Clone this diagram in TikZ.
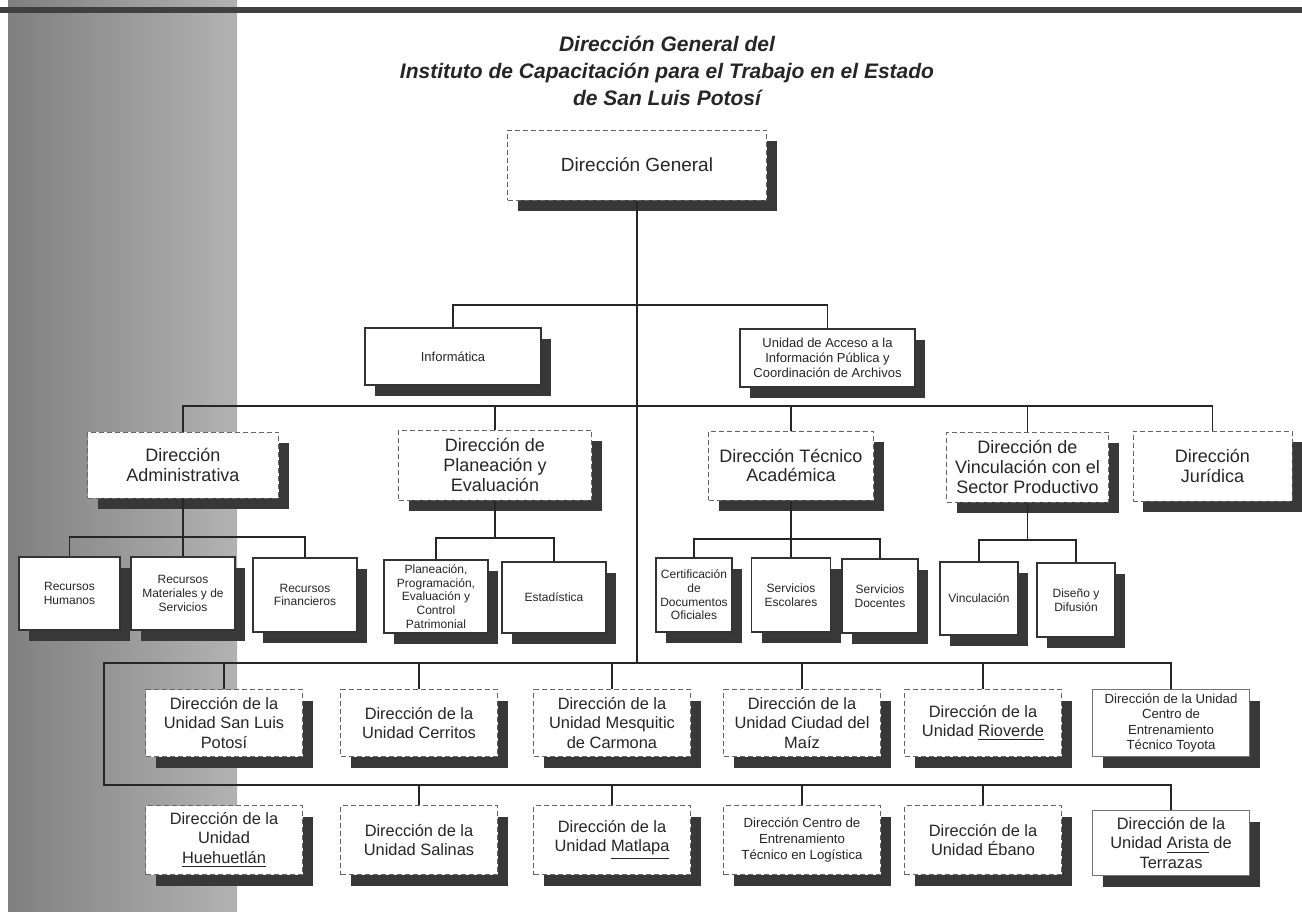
\documentclass[tikz,border=0pt]{standalone}
\usepackage{fontspec}
\setmainfont{Liberation Sans}
\usetikzlibrary{shadows}
\tikzstyle{conn} = [line width=0.7pt, black!85]
\tikzstyle{boxbase} = [fill=white, align=center, inner sep=1pt, text=black!85, drop shadow={shadow xshift=5pt, shadow yshift=-5.5pt, fill=black!78, opacity=1}]
\tikzstyle{dirbox} = [boxbase, draw=black!60, line width=0.5pt, dash pattern=on 2.5pt off 1.5pt, font=\fontsize{9}{9.8}\selectfont]
\tikzstyle{unitbox} = [dirbox, font=\fontsize{8.2}{9.6}\selectfont]
\tikzstyle{areabox} = [boxbase, draw=black!80, line width=0.7pt, font=\fontsize{6.5}{7.5}\selectfont]
\tikzstyle{subbox} = [areabox, font=\fontsize{6}{6.8}\selectfont]
\tikzset{sz/.style 2 args={minimum width=#1*0.5pt, minimum height=#2*0.5pt}}
\newcommand{\squig}[1]{\underline{#1}}

\begin{document}
\begin{tikzpicture}[x=0.5pt, y=-0.5pt]
\useasboundingbox (0,0) rectangle (1302,911);
% background
\fill[white] (0,0) rectangle (1302,911);
\shade[left color=black!50, right color=black!30] (8,0) rectangle (237,911);
\fill[black!75] (0,7) rectangle (1302,13);

\node[align=center, text=black!85, font=\fontsize{10.5}{13.5}\selectfont\bfseries\itshape] (title) at (667,71)
  {Dirección General del\\Instituto de Capacitación para el Trabajo en el Estado\\de San Luis Potosí};

% direccion general y staff
\node[dirbox, sz={259}{70}, font=\fontsize{9.5}{11}\selectfont] (dg) at (637,165) {Dirección General};
\node[areabox, sz={176}{57}] (inf) at (453,356.5) {Informática};
\node[areabox, sz={175}{58}] (acc) at (827.5,358) {Unidad de Acceso a la\\Información Pública y\\Coordinación de Archivos};

% direcciones de area
\node[dirbox, sz={191}{66}] (adm) at (183,465) {Dirección\\Administrativa};
\node[dirbox, sz={193}{70}] (pla) at (495,465) {Dirección de\\Planeación y\\Evaluación};
\node[dirbox, sz={165}{69}] (tec) at (791,465.5) {Dirección Técnico\\Académica};
\node[dirbox, sz={162}{70}] (vin) at (1027.5,467) {Dirección de\\Vinculación con el\\Sector Productivo};
\node[dirbox, sz={159}{70}] (jur) at (1212.5,466) {Dirección\\Jurídica};

% departamentos
\node[subbox, sz={101}{73}] (rh) at (69.5,593.5) {Recursos\\Humanos};
\node[subbox, sz={104}{73}] (rm) at (183,593.5) {Recursos\\Materiales y de\\Servicios};
\node[subbox, sz={104}{74}] (rf) at (305,595) {Recursos\\Financieros};
\node[subbox, sz={104}{73}] (pc) at (436,596.5) {Planeación,\\Programación,\\Evaluación y\\Control\\Patrimonial};
\node[subbox, sz={104}{71}] (est) at (554,597.5) {Estadística};
\node[subbox, sz={76}{74}] (cert) at (694,595) {Certificación\\de\\Documentos\\Oficiales};
\node[subbox, sz={79}{74}] (esc) at (791,595) {Servicios\\Escolares};
\node[subbox, sz={76}{74}] (doc) at (880,596) {Servicios\\Docentes};
\node[subbox, sz={78}{73}] (vc) at (979,598.5) {Vinculación};
\node[subbox, sz={78}{74}] (dis) at (1076,600) {Diseño y\\Difusión};

% unidades
\node[unitbox, sz={157}{67}] (slp) at (224,723) {Dirección de la\\Unidad San Luis\\Potosí};
\node[unitbox, sz={157}{67}] (cer) at (419,723) {Dirección de la\\Unidad Cerritos};
\node[unitbox, sz={157}{67}] (mex) at (612,723) {Dirección de la\\Unidad Mesquitic\\de Carmona};
\node[unitbox, sz={157}{67}] (cdm) at (802,723) {Dirección de la\\Unidad Ciudad del\\Maíz};
\node[unitbox, sz={157}{67}] (rio) at (983,723) {Dirección de la\\Unidad \squig{Rioverde}};
\node[unitbox, solid, draw=black!55, sz={157}{67}, font=\fontsize{6.6}{7.8}\selectfont] (toy) at (1171,723) {Dirección de la Unidad\\Centro de\\Entrenamiento\\Técnico Toyota};
\node[unitbox, sz={157}{69}] (hue) at (224,840) {Dirección de la\\Unidad\\\squig{Huehuetlán}};
\node[unitbox, sz={157}{69}] (sal) at (419,840) {Dirección de la\\Unidad Salinas};
\node[unitbox, sz={157}{69}] (mat) at (612,840) {Dirección de la\\Unidad \squig{Matlapa}};
\node[unitbox, sz={157}{69}, font=\fontsize{6.6}{7.8}\selectfont] (log) at (802,840) {Dirección Centro de\\Entrenamiento\\Técnico en Logística};
\node[unitbox, sz={157}{69}] (eba) at (983,840) {Dirección de la\\Unidad Ébano};
\node[unitbox, solid, draw=black!55, sz={157}{65}] (ari) at (1171,843) {Dirección de la\\Unidad \squig{Arista} de\\Terrazas};

% lineas
\coordinate (l2) at (637,305);
\coordinate (l3) at (637,406);
\coordinate (admb) at (183,537);
\coordinate (plab) at (495,538);
\coordinate (tecb) at (791,539);
\coordinate (vinb) at (1027.5,540);
\coordinate (ub) at (104,663);
\coordinate (lb) at (104,785);

\draw[conn] (dg.south) -- (dg.south |- ub);
\draw[conn] (inf.north) |- (l2) -| (acc.north);
\draw[conn] (adm.north) |- (l3) -| (jur.north);
\foreach \n in {pla,tec,vin} \draw[conn] (\n.north) -- (\n.north |- l3);

\draw[conn] (adm.south) -- (rm.north);
\draw[conn] (rh.north) |- (admb) -| (rf.north);
\draw[conn] (pla.south) -- (plab);
\draw[conn] (pc.north) |- (plab) -| (est.north);
\draw[conn] (tec.south) -- (esc.north);
\draw[conn] (cert.north) |- (tecb) -| (doc.north);
\draw[conn] (vin.south) -- (vinb);
\draw[conn] (vc.north) |- (vinb) -| (dis.north);

\draw[conn] (toy.north) |- (ub) -- (lb) -| (ari.north);
\foreach \n in {slp,cer,mex,cdm,rio} \draw[conn] (\n.north) -- (\n.north |- ub);
\foreach \n in {sal,mat,log,eba} \draw[conn] (\n.north) -- (\n.north |- lb);
\end{tikzpicture}
\end{document}
